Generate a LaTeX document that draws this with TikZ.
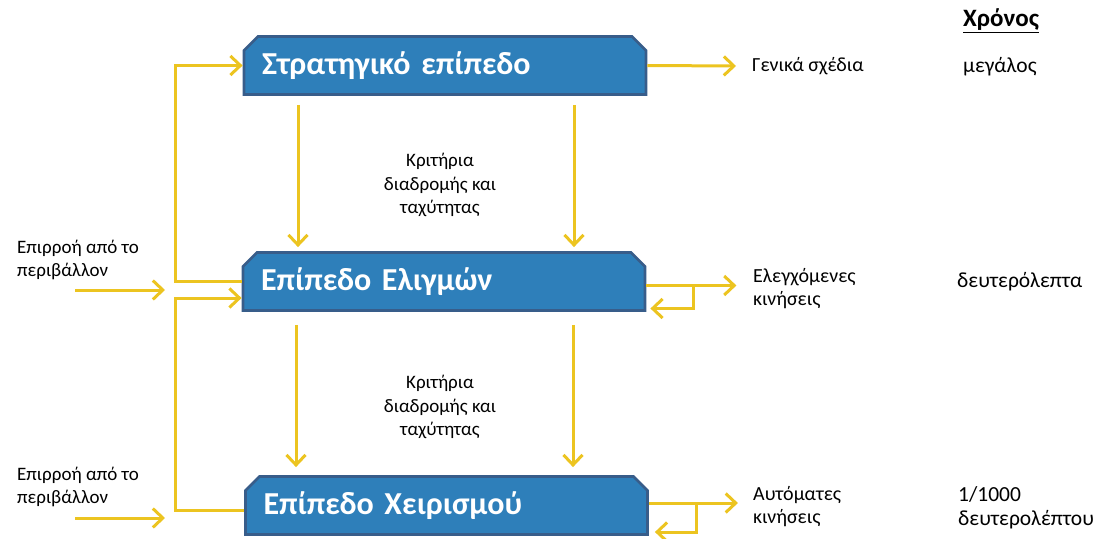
\documentclass[tikz,border=0pt]{standalone}
\usepackage{fontspec}
\setmainfont{Carlito}
\usetikzlibrary{arrows.meta, positioning, shapes.misc, calc}
\definecolor{levelblue}{RGB}{46,127,186}
\definecolor{levelrim}{RGB}{56,93,138}
\definecolor{flowgold}{RGB}{236,196,32}

\begin{document}
\begin{tikzpicture}[x=1pt, y=-1pt,
    >={Straight Barb[length=10pt,width=19pt]},
    level/.style={chamfered rectangle,
                  chamfered rectangle corners={north west, north east},
                  chamfered rectangle xsep=7pt, chamfered rectangle ysep=7pt,
                  draw=levelrim, line width=2.8pt, fill=levelblue, text=white,
                  minimum width=402pt, minimum height=58pt, inner sep=0pt,
                  text width=366pt, align=left, font=\fontsize{32}{36}\selectfont\bfseries},
    flow/.style={draw=flowgold, line width=3pt, ->},
    note/.style={anchor=west, inner sep=0pt, align=left,
                 font=\fontsize{20}{23}\selectfont},
    crit/.style={inner sep=0pt, align=center,
                 font=\fontsize{19}{23.5}\selectfont}
  ]
  \useasboundingbox (0,0) rectangle (1099,538);

  % The three levels
  \node[level] (strat) at (445,65.5) {Στρατηγικό επίπεδο};
  \node[level] (elig) at (444,281.5) {Επίπεδο Ελιγμών};
  \node[level] (xeir) at (446.5,505.5) {Επίπεδο Χειρισμού};

  % Criteria passed downwards
  \node[crit] (crit1) at (440,185) {Κριτήρια\\διαδρομής και\\ταχύτητας};
  \node[crit] (crit2) at (440,407) {Κριτήρια\\διαδρομής και\\ταχύτητας};
  \foreach \dx in {-147,129}
    \draw[flow] ([shift={(\dx,9)}]strat.south) -- ([shift={(\dx,-4)}]strat.south |- elig.north);
  \foreach \dx in {-148,129}
    \draw[flow] ([shift={(\dx,13)}]elig.south) -- ([shift={(\dx,-8)}]elig.south |- xeir.north);

  % Feedback upwards on the left
  \coordinate (fbx) at (175,0);
  \draw[flow] (elig.west) -- (elig.west -| fbx) |- (strat.west);
  \draw[flow] ([shift={(0,4.5)}]xeir.west) -- ([shift={(0,4.5)}]xeir.west -| fbx)
    |- ([shift={(0,16.5)}]elig.west);

  % Influence from the environment
  \node[note, font=\fontsize{19}{23}\selectfont] (env1) at (17,260) {Επιρροή από το\\περιβάλλον};
  \node[note, font=\fontsize{19}{23}\selectfont] (env2) at (17,487) {Επιρροή από το\\περιβάλλον};
  \coordinate (in1) at (75,290);
  \coordinate (in2) at (75,518);
  \draw[flow] (in1) -- ++(90,0);
  \draw[flow] (in2) -- ++(90,0);

  % Outputs on the right
  \node[note] (plans) at (752,66) {Γενικά σχέδια};
  \node[note] (moves) at (753,289) {Ελεγχόμενες\\κινήσεις};
  \node[note] (auto) at (753,507) {Αυτόματες\\κινήσεις};
  \draw[flow] (strat.east) -- ([xshift=-16pt]plans.west);
  \draw[flow] ([shift={(0,4)}]elig.east) -- ++(90,0);
  \draw[flow] ([shift={(47,4)}]elig.east) |- ([shift={(4,27)}]elig.east);
  \draw[flow] ([shift={(0,-2.5)}]xeir.east) -- ++(89,0);
  \draw[flow] ([shift={(48,-2.5)}]xeir.east) |- ([shift={(6,26.5)}]xeir.east);

  % Time scale
  \node[anchor=west, inner sep=0pt, font=\fontsize{25}{30}\selectfont\bfseries] (time) at (963,21) {\underline{Χρόνος}};
  \node[note, font=\fontsize{21.5}{24}\selectfont] (t1) at (963,67) {μεγάλος};
  \node[note, font=\fontsize{21.5}{24}\selectfont] (t2) at (957,282) {δευτερόλεπτα};
  \node[note, font=\fontsize{21.5}{24}\selectfont] (t3) at (958,508) {1/1000\\δευτερολέπτου};
\end{tikzpicture}
\end{document}
